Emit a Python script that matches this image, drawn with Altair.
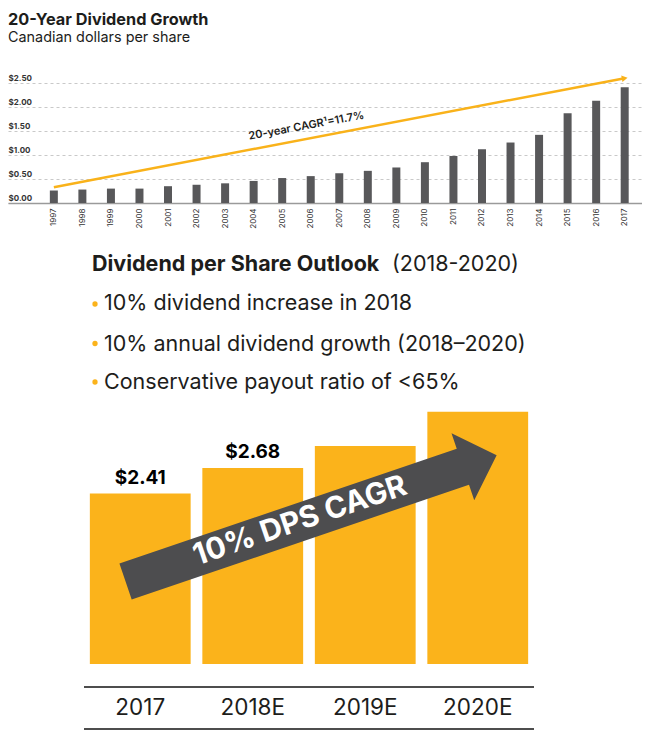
import altair as alt
import pandas as pd

# ---------------- data ----------------
years = [1997, 1998, 1999, 2000, 2001, 2002, 2003, 2004, 2005, 2006, 2007,
         2008, 2009, 2010, 2011, 2012, 2013, 2014, 2015, 2016, 2017]
dividends = [0.26, 0.28, 0.30, 0.30, 0.35, 0.38, 0.41, 0.46, 0.52, 0.56, 0.62,
             0.67, 0.74, 0.85, 0.98, 1.12, 1.26, 1.42, 1.87, 2.13, 2.41]
y_ticks = [0, 0.5, 1.0, 1.5, 2.0, 2.5]
trend_years = [1997, 2017]
trend_values = [0.33, 2.60]
cagr_text = ["20-year CAGR\u00b9=11.7%"]

outlook_cats = ["2017", "2018E", "2019E", "2020E"]
outlook_values = [2.41, 2.68, 2.91, 3.27]
outlook_labels = ["$2.41", "$2.68", "", ""]

heading_bold = "Dividend per Share Outlook"
heading_light = "(2018-2020)"
bullets = ["10% dividend increase in 2018",
           "10% annual dividend growth (2018\u20132020)",
           "Conservative payout ratio of <65%"]
arrow_text = "10% DPS CAGR"

FONT = "Inter"
INK = "#1d1d1b"
GREY = "#58585a"
ORANGE = "#FBB31B"
LINE_ORANGE = "#F9B21A"

# ---------------- top chart ----------------
W = 634
H1 = 120
top_df = pd.DataFrame({"year": years, "dps": dividends})
xs = alt.Scale(domain=[1995.569, 2017.431], nice=False, zero=False)
ys = alt.Scale(domain=[0, 2.5], nice=False)

x_axis = alt.Axis(values=years, format="d", labelAngle=270, grid=False,
                  ticks=False, tickSize=0, domain=True, domainColor="#9a9a9a",
                  domainWidth=1.5, labelFontSize=8, labelColor="#333",
                  labelFont=FONT, labelPadding=5, labelOverlap=False,
                  labelFlush=False, title=None)
y_axis = alt.Axis(values=y_ticks, format="$.2f", labelAlign="left",
                  labelBaseline="bottom", labelPadding=0, ticks=False,
                  tickSize=0, domain=False, grid=True, gridDash=[3, 3],
                  gridColor="#c9c9c9", labelFontSize=8, labelFontWeight="bold",
                  labelColor="#333", labelFont=FONT, title=None,
                  labelOverlap=False, labelFlush=False, labelOffset=-1)

def X(field):
    return alt.X(field, scale=xs, axis=x_axis)

def Y(field):
    return alt.Y(field, scale=ys, axis=y_axis)

bars = alt.Chart(top_df).mark_bar(size=8, color=GREY).encode(
    x=X("year:Q"), y=Y("dps:Q"))

trend_df = pd.DataFrame({"year": trend_years, "v": trend_values})
trend = alt.Chart(trend_df).mark_line(color=LINE_ORANGE, strokeWidth=2.5).encode(
    x=X("year:Q"), y=Y("v:Q"))
head = alt.Chart(trend_df.tail(1)).mark_point(
    shape="triangle-right", filled=True, color=LINE_ORANGE, size=45, angle=349.4,
    opacity=1).encode(x=X("year:Q"), y=Y("v:Q"))

cagr_df = pd.DataFrame({"year": [2005.85], "v": [1.60], "t": cagr_text})
cagr = alt.Chart(cagr_df).mark_text(angle=349.5, fontSize=11, fontWeight=600,
                                    font=FONT, color=INK).encode(
    x=X("year:Q"), y=Y("v:Q"), text="t:N")

top = alt.layer(bars, trend, head, cagr).properties(
    width=W, height=H1,
    title=alt.TitleParams(text="20-Year Dividend Growth",
                          subtitle="Canadian dollars per share",
                          anchor="start", frame="group", font=FONT,
                          subtitleFont=FONT, fontSize=16.3, subtitleFontSize=14.4,
                          fontWeight="bold", color=INK, subtitleColor=INK,
                          subtitlePadding=3, offset=29))

# ---------------- bottom chart ----------------
T = 240.0          # page y of bottom plot top
H3 = 663 - T
PX_PER = 95.2
y_lo = 0.62
y_hi = y_lo + H3 / PX_PER

out_df = pd.DataFrame({"cat": outlook_cats, "v": outlook_values, "lab": outlook_labels})
bx = alt.Scale(domain=outlook_cats, range=[76, 526], paddingInner=0.104, paddingOuter=0.052)
by = alt.Scale(domain=[y_lo, y_hi], nice=False, zero=False)

obars = alt.Chart(out_df).mark_bar(color=ORANGE).encode(
    x=alt.X("cat:N", sort=outlook_cats, scale=bx,
            axis=alt.Axis(orient="bottom", offset=23, domain=False, ticks=False,
                          tickSize=0, labelFontSize=22.5, labelColor=INK, labelFont=FONT,
                          labelPadding=9, labelAngle=0, title=None)),
    y=alt.Y("v:Q", scale=by, axis=None),
    y2=alt.Y2(datum=y_lo))
olabels = alt.Chart(out_df).mark_text(baseline="bottom", dy=-6, fontSize=19,
                                      fontWeight="bold", font=FONT, color="#000").encode(
    x=alt.X("cat:N", sort=outlook_cats, scale=bx),
    y=alt.Y("v:Q", scale=by), text="lab:N")

rule_df = pd.DataFrame({"k": [0]})
rule_top = alt.Chart(rule_df).mark_rule(color="#4d4d4d", strokeWidth=1.8).encode(
    x=alt.value(76), x2=alt.value(526), y=alt.value(H3 + 23))
rule_bot = alt.Chart(rule_df).mark_rule(color="#4d4d4d", strokeWidth=1.8).encode(
    x=alt.value(76), x2=alt.value(526), y=alt.value(H3 + 65))

ARROW = "M-1,-0.097L0.818,-0.097L0.818,-0.18L1,0L0.818,0.18L0.818,0.097L-1,0.097Z"
arrow = alt.Chart(rule_df).mark_point(shape=ARROW, filled=True, color="#4d4d4f",
                                      size=392 ** 2, angle=341.2, opacity=1,
                                      strokeWidth=0).encode(
    x=alt.value(311.1 - 8), y=alt.value(517.4 - T))
arrow_lbl = alt.Chart(rule_df).mark_text(text=arrow_text, angle=341.2, fontSize=30,
                                         fontWeight="bold", font=FONT, color="white",
                                         baseline="middle", align="center").encode(
    x=alt.value(300 - 8), y=alt.value(520 - T))

head1 = alt.Chart(rule_df).mark_text(text=heading_bold, fontSize=21.5, fontWeight="bold",
                                     font=FONT, color=INK, align="left",
                                     baseline="alphabetic").encode(
    x=alt.value(92 - 8), y=alt.value(270 - T))
head2 = alt.Chart(rule_df).mark_text(text=heading_light, fontSize=21.5, font=FONT,
                                     color=INK, align="left",
                                     baseline="alphabetic").encode(
    x=alt.value(392 - 8), y=alt.value(270 - T))

bul_df = pd.DataFrame({"t": bullets, "i": [0, 1, 2]})
bul_df["ty"] = [309 - T, 350 - T, 388 - T]
bul_df["dy_"] = [303 - T, 342.5 - T, 381 - T]
btext = alt.Chart(bul_df).mark_text(fontSize=21.5, font=FONT, color=INK, align="left",
                                    baseline="alphabetic").encode(
    x=alt.value(104 - 8), y=alt.Y("ty:Q", scale=None), text="t:N")
bdots = alt.Chart(bul_df).mark_circle(size=28, color=ORANGE, opacity=1).encode(
    x=alt.value(95 - 8), y=alt.Y("dy_:Q", scale=None))

bottom = alt.layer(obars, olabels, rule_top, rule_bot, arrow, arrow_lbl,
                   head1, head2, bdots, btext).properties(width=W, height=H3)

chart = alt.vconcat(top, bottom, spacing=12).properties(
    padding={"top": 3, "left": 0, "right": 0, "bottom": 0}).configure_view(
    stroke=None).resolve_scale(y="independent")

chart.save("out.html", embed_options={"renderer": "svg", "actions": False})
